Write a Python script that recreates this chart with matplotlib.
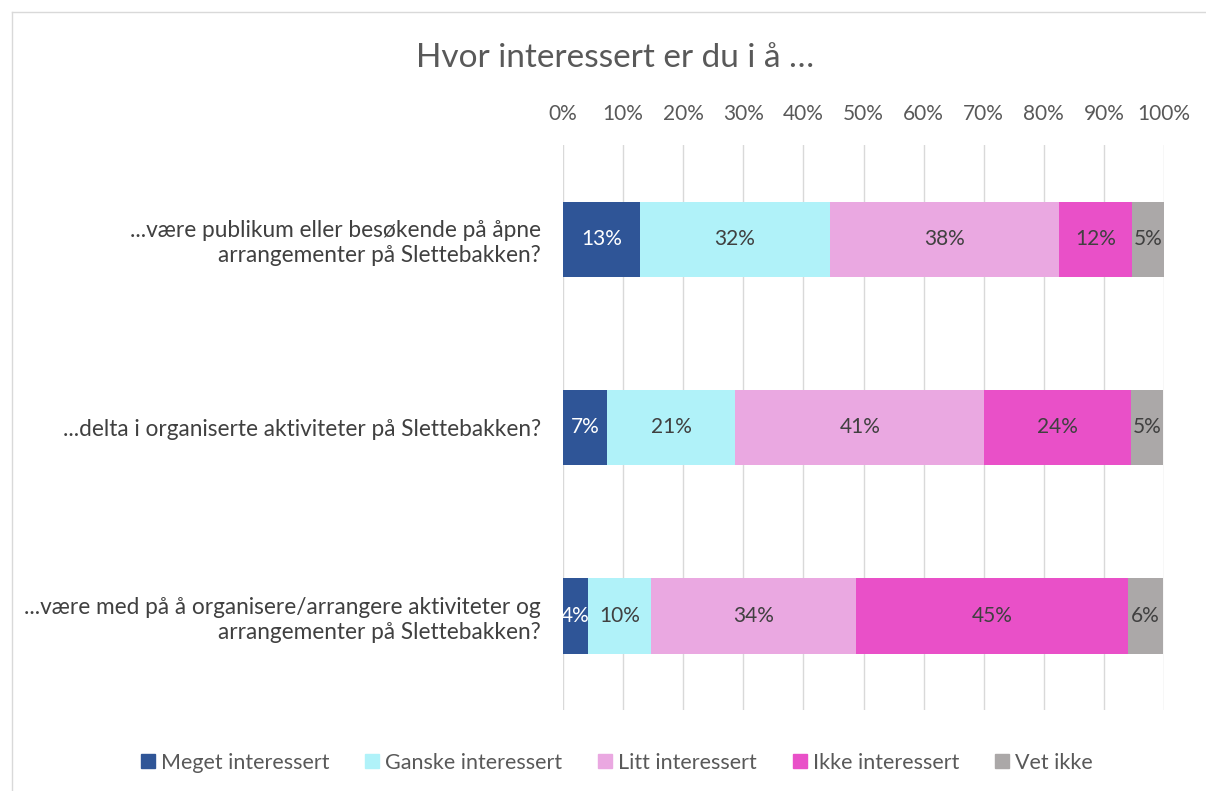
import matplotlib.pyplot as plt
from matplotlib.lines import Line2D
import numpy as np

plt.rcParams['font.family'] = ['Lato', 'DejaVu Sans']

# survey data (percent of respondents)
questions = ['...være publikum eller besøkende på åpne\narrangementer på Slettebakken?',
             '...delta i organiserte aktiviteter på Slettebakken?',
             '...være med på å organisere/arrangere aktiviteter og\narrangementer på Slettebakken?']
categories = ['Meget interessert', 'Ganske interessert', 'Litt interessert', 'Ikke interessert', 'Vet ikke']
meget = [12.8, 7.3, 4.2]
ganske = [31.6, 21.4, 10.4]
litt = [38.1, 41.4, 34.1]
ikke = [12.2, 24.4, 45.3]
vet = [5.3, 5.4, 5.9]
colors = ['#2F5597', '#B0F2F9', '#EAA8E1', '#E950C8', '#ABA8A8']
label_colors = ['white', '#404040', '#404040', '#404040', '#404040']

fig = plt.figure(figsize=(12.06, 7.91), dpi=100)
ax = fig.add_axes([563/1206, 1 - 710/791, 601/1206, 565/791])

y = np.arange(len(questions))
left = np.zeros(len(questions))
for vals, col, lc in zip([meget, ganske, litt, ikke, vet], colors, label_colors):
    vals = np.array(vals)
    ax.barh(y, vals / 100, left=left, height=0.4, color=col, zorder=3)
    for yi, l, v in zip(y, left, vals):
        ax.text(l + v / 200, yi, f'{v:.0f}%', ha='center', va='center',
                color=lc, fontsize=15, zorder=4)
    left += vals / 100

ax.set_xlim(0, 1)
ax.set_ylim(2.5, -0.5)
ax.set_xticks(np.linspace(0, 1, 11))
ax.set_xticklabels([f'{i}%' for i in range(0, 101, 10)])
ax.xaxis.tick_top()
ax.tick_params(axis='x', length=0, pad=15, labelsize=15, labelcolor='#595959')
ax.set_yticks(y)
ax.set_yticklabels(questions, fontsize=16.3, color='#404040', linespacing=1.25)
ax.tick_params(axis='y', length=0, pad=16)
ax.grid(axis='x', color='#D9D9D9', linewidth=1, zorder=0)
for s in ax.spines.values():
    s.set_visible(False)

fig.text(615/1206, 1 - 58/791, 'Hvor interessert er du i å …', ha='center', va='center',
         fontsize=24, color='#595959')

handles = [Line2D([], [], marker='s', linestyle='', markersize=10, color=c) for c in colors]
fig.legend(handles, categories, loc='center', bbox_to_anchor=(615/1206, 1 - 763/791),
           ncol=5, frameon=False, fontsize=15.5, labelcolor='#595959',
           handletextpad=0.1, columnspacing=1.5, handlelength=1)

# chart border
fig.add_artist(Line2D([12/1206, 12/1206], [0, 1 - 12/791], color='#D9D9D9', lw=1))
fig.add_artist(Line2D([12/1206, 1], [1 - 12/791, 1 - 12/791], color='#D9D9D9', lw=1))

fig.savefig('out.png', dpi=100)
